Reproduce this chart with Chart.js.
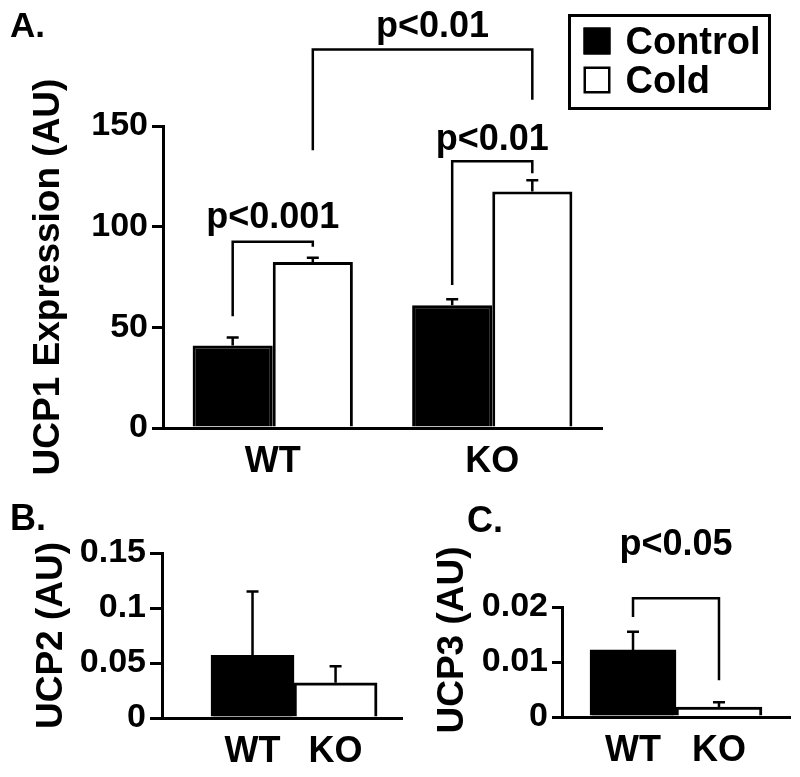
<!DOCTYPE html>
<html>
<head>
<meta charset="utf-8">
<script src="https://cdn.jsdelivr.net/npm/chart.js@4.4.0/dist/chart.umd.min.js"></script>
<style>
html,body{margin:0;padding:0;background:#fff;}
#wrap{position:relative;width:800px;height:777px;overflow:hidden;background:#fff;}
canvas{position:absolute;}
</style>
</head>
<body>
<div id="wrap">
<canvas id="cA" style="left:0px;top:0px" width="800" height="475"></canvas>
<canvas id="cB" style="left:0px;top:470px" width="405" height="307"></canvas>
<canvas id="cC" style="left:400px;top:470px" width="400" height="307"></canvas>
</div>
<script>
// ---------- DATA ----------
const groups = ['WT', 'KO'];
const seriesNames = ['Control', 'Cold'];
const ucp1Control = [41, 61];
const ucp1ControlErr = [4, 3];
const ucp1Cold = [82.5, 117.5];
const ucp1ColdErr = [2, 5.5];
const ucp1Ticks = [0, 50, 100, 150];

const ucp2 = [0.057, 0.032];
const ucp2Err = [0.058, 0.015];
const ucp2Ticks = [0, 0.05, 0.1, 0.15];

const ucp3 = [0.0122, 0.0018];
const ucp3Err = [0.0033, 0.0009];
const ucp3Ticks = [0, 0.01, 0.02];

const pLabelsA = ['p<0.001', 'p<0.01', 'p<0.01'];
const pLabelsC = ['p<0.05'];

// ---------- STYLE ----------
const FONT = '"Liberation Sans", Arial, Helvetica, sans-serif';
const BLACK = '#000000';
const WHITE = '#ffffff';
const AXW = 3;

// ---------- PLUGINS ----------
const errorBars = {
  id: 'errorBars',
  afterDatasetsDraw(chart, args, o) {
    const ctx = chart.ctx, y = chart.scales.y;
    ctx.save();
    ctx.strokeStyle = BLACK;
    ctx.lineWidth = o.lineWidth || 2.5;
    ctx.lineCap = 'butt';
    chart.data.datasets.forEach((ds, di) => {
      const meta = chart.getDatasetMeta(di);
      meta.data.forEach((bar, i) => {
        const raw = ds.data[i];
        const v = (typeof raw === 'object') ? raw.y : raw;
        const e = ds.errors[i];
        const top = y.getPixelForValue(v + e);
        const half = (o.cap || 12) / 2;
        ctx.beginPath();
        ctx.moveTo(bar.x, bar.y);
        ctx.lineTo(bar.x, top);
        ctx.moveTo(bar.x - half, top);
        ctx.lineTo(bar.x + half, top);
        ctx.stroke();
      });
    });
    ctx.restore();
  }
};

const brackets = {
  id: 'brackets',
  afterDatasetsDraw(chart, args, o) {
    const ctx = chart.ctx, y = chart.scales.y;
    ctx.save();
    ctx.strokeStyle = BLACK;
    ctx.fillStyle = BLACK;
    ctx.lineWidth = o.lineWidth || 2.5;
    ctx.font = 'bold ' + (o.fontSize || 36) + 'px ' + FONT;
    ctx.textAlign = 'center';
    ctx.textBaseline = 'alphabetic';
    (o.items || []).forEach(b => {
      const xa = chart.getDatasetMeta(b.a[0]).data[b.a[1]].x;
      const xb = chart.getDatasetMeta(b.b[0]).data[b.b[1]].x;
      const yt = y.getPixelForValue(b.top);
      const ya = y.getPixelForValue(b.aEnd);
      const yb = y.getPixelForValue(b.bEnd);
      ctx.beginPath();
      ctx.moveTo(xa, ya);
      ctx.lineTo(xa, yt);
      ctx.lineTo(xb, yt);
      ctx.lineTo(xb, yb);
      ctx.stroke();
      ctx.fillText(b.label, (xa + xb) / 2 + (b.dx || 0), yt - b.gap);
    });
    ctx.restore();
  }
};

const boxLegend = {
  id: 'boxLegend',
  afterDraw(chart, args, o) {
    if (!o.display) return;
    const ctx = chart.ctx;
    ctx.save();
    ctx.strokeStyle = BLACK;
    ctx.lineWidth = 3;
    ctx.strokeRect(o.x, o.y, o.w, o.h);
    ctx.font = 'bold ' + o.fontSize + 'px ' + FONT;
    ctx.textAlign = 'left';
    ctx.textBaseline = 'alphabetic';
    chart.data.datasets.forEach((ds, i) => {
      const sy = o.y + o.firstRow + i * o.rowH;
      const sx = o.x + o.boxLeft;
      ctx.fillStyle = ds.backgroundColor;
      ctx.fillRect(sx, sy, o.box, o.box);
      ctx.lineWidth = 2.5;
      ctx.strokeRect(sx + 1.25, sy + 1.25, o.box - 2.5, o.box - 2.5);
      ctx.fillStyle = BLACK;
      ctx.fillText(ds.label, o.x + o.textLeft, sy + o.box - 1);
    });
    ctx.restore();
  }
};

const texts = {
  id: 'texts',
  afterDraw(chart, args, o) {
    const ctx = chart.ctx;
    ctx.save();
    ctx.fillStyle = BLACK;
    (o.items || []).forEach(t => {
      ctx.save();
      ctx.font = 'bold ' + t.size + 'px ' + FONT;
      ctx.translate(t.x, t.y);
      if (t.rot) ctx.rotate(t.rot);
      ctx.textAlign = t.align || 'left';
      ctx.textBaseline = t.baseline || 'alphabetic';
      ctx.fillText(t.text, 0, 0);
      ctx.restore();
    });
    ctx.restore();
  }
};

Chart.register(errorBars, brackets, boxLegend, texts);

function yAxis(min, max, tickVals, width, tickLen, title, titlePad) {
  return {
    min: min, max: max,
    afterBuildTicks: s => { s.ticks = tickVals.map(v => ({ value: v })); },
    afterFit: s => { s.width = width; },
    ticks: { color: BLACK, font: { family: FONT, size: 34, weight: 'bold' }, padding: 4,
             callback: v => String(v) },
    grid: { drawOnChartArea: false, drawTicks: true, tickLength: tickLen, color: BLACK, lineWidth: AXW },
    border: { display: true, color: BLACK, width: AXW },
    title: title ? { display: true, text: title, color: BLACK,
                     font: { family: FONT, size: 37, weight: 'bold' },
                     padding: { top: titlePad, bottom: 0 } } : { display: false }
  };
}

const common = {
  responsive: false,
  animation: false,
  devicePixelRatio: 1,
  events: []
};

// ---------- PANEL A ----------
new Chart(document.getElementById('cA'), {
  type: 'bar',
  data: {
    labels: groups,
    datasets: [
      { label: seriesNames[0], data: ucp1Control, errors: ucp1ControlErr,
        backgroundColor: BLACK, borderColor: BLACK, borderWidth: 3,
        categoryPercentage: 0.73, barPercentage: 1 },
      { label: seriesNames[1], data: ucp1Cold, errors: ucp1ColdErr,
        backgroundColor: WHITE, borderColor: BLACK, borderWidth: 3,
        categoryPercentage: 0.73, barPercentage: 1 }
    ]
  },
  options: Object.assign({}, common, {
    layout: { padding: { left: 0, top: 126, right: 198, bottom: 0 } },
    scales: {
      x: {
        afterFit: s => { s.height = 47; },
        grid: { display: false, drawTicks: false },
        border: { display: true, color: BLACK, width: AXW },
        ticks: { color: BLACK, font: { family: FONT, size: 36, weight: 'bold' }, padding: 12 }
      },
      y: yAxis(0, 150, ucp1Ticks, 163, 11, 'UCP1 Expression (AU)', 27)
    },
    plugins: {
      legend: { display: false },
      tooltip: { enabled: false },
      errorBars: { lineWidth: 2.5, cap: 12 },
      brackets: {
        lineWidth: 2.5, fontSize: 36,
        items: [
          { label: pLabelsA[0], a: [0, 0], b: [1, 0], top: 92.5, aEnd: 55.5, bEnd: 90, gap: 14 },
          { label: pLabelsA[1], a: [0, 1], b: [1, 1], top: 132.5, aEnd: 71, bEnd: 126.5, gap: 11 },
          { label: pLabelsA[2], a: [1, 0], b: [1, 1], top: 188, aEnd: 138, bEnd: 163, gap: 12, dx: 10 }
        ]
      },
      boxLegend: { display: true, x: 569.5, y: 15.5, w: 200, h: 93, fontSize: 38,
                   firstRow: 12, rowH: 39, box: 27, boxLeft: 14, textLeft: 56 },
      texts: { items: [ { text: 'A.', x: 10, y: 37, size: 35 } ] }
    }
  })
});

// ---------- PANEL B ----------
new Chart(document.getElementById('cB'), {
  type: 'bar',
  data: {
    datasets: [
      { label: 'UCP2', data: ucp2.map((v, i) => ({ x: i + 1, y: v })), errors: ucp2Err,
        backgroundColor: [BLACK, WHITE], borderColor: BLACK, borderWidth: 3,
        categoryPercentage: 1, barPercentage: 1 }
    ]
  },
  options: Object.assign({}, common, {
    layout: { padding: { left: 0, top: 83, right: 3, bottom: 0 } },
    scales: {
      x: {
        type: 'linear', min: -0.09, max: 2.8, offset: false,
        afterBuildTicks: s => { s.ticks = groups.map((g, i) => ({ value: i + 1 })); },
        afterFit: s => { s.height = 59; },
        grid: { display: false, drawTicks: false },
        border: { display: true, color: BLACK, width: AXW },
        ticks: { color: BLACK, font: { family: FONT, size: 36, weight: 'bold' }, padding: 12,
                 callback: v => groups[v - 1] }
      },
      y: yAxis(0, 0.15, ucp2Ticks, 162, 12, 'UCP2 (AU)', 30)
    },
    plugins: {
      legend: { display: false },
      tooltip: { enabled: false },
      errorBars: { lineWidth: 2.5, cap: 12 },
      brackets: { items: [] },
      boxLegend: { display: false },
      texts: { items: [ { text: 'B.', x: 10, y: 60, size: 36 } ] }
    }
  })
});

// ---------- PANEL C ----------
new Chart(document.getElementById('cC'), {
  type: 'bar',
  data: {
    datasets: [
      { label: 'UCP3', data: ucp3.map((v, i) => ({ x: i + 1, y: v })), errors: ucp3Err,
        backgroundColor: [BLACK, WHITE], borderColor: BLACK, borderWidth: 3,
        categoryPercentage: 1, barPercentage: 1 }
    ]
  },
  options: Object.assign({}, common, {
    layout: { padding: { left: 0, top: 137, right: 10, bottom: 0 } },
    scales: {
      x: {
        type: 'linear', min: 0.174, max: 2.826, offset: false,
        afterBuildTicks: s => { s.ticks = groups.map((g, i) => ({ value: i + 1 })); },
        afterFit: s => { s.height = 60; },
        grid: { display: false, drawTicks: false },
        border: { display: true, color: BLACK, width: AXW },
        ticks: { color: BLACK, font: { family: FONT, size: 36, weight: 'bold' }, padding: 12,
                 callback: v => groups[v - 1] }
      },
      y: yAxis(0, 0.02, ucp3Ticks, 162, 10, null, 0)
    },
    plugins: {
      legend: { display: false },
      tooltip: { enabled: false },
      errorBars: { lineWidth: 2.5, cap: 12 },
      brackets: {
        lineWidth: 2.5, fontSize: 36,
        items: [
          { label: pLabelsC[0], a: [0, 0], b: [0, 1], top: 0.0216, aEnd: 0.0182, bEnd: 0.0067, gap: 43 }
        ]
      },
      boxLegend: { display: false },
      texts: { items: [
        { text: 'C.', x: 67, y: 62, size: 36 },
        { text: 'UCP3 (AU)', x: 53, y: 170, size: 37, rot: -Math.PI / 2, align: 'center', baseline: 'middle' }
      ] }
    }
  })
});
</script>
</body>
</html>
